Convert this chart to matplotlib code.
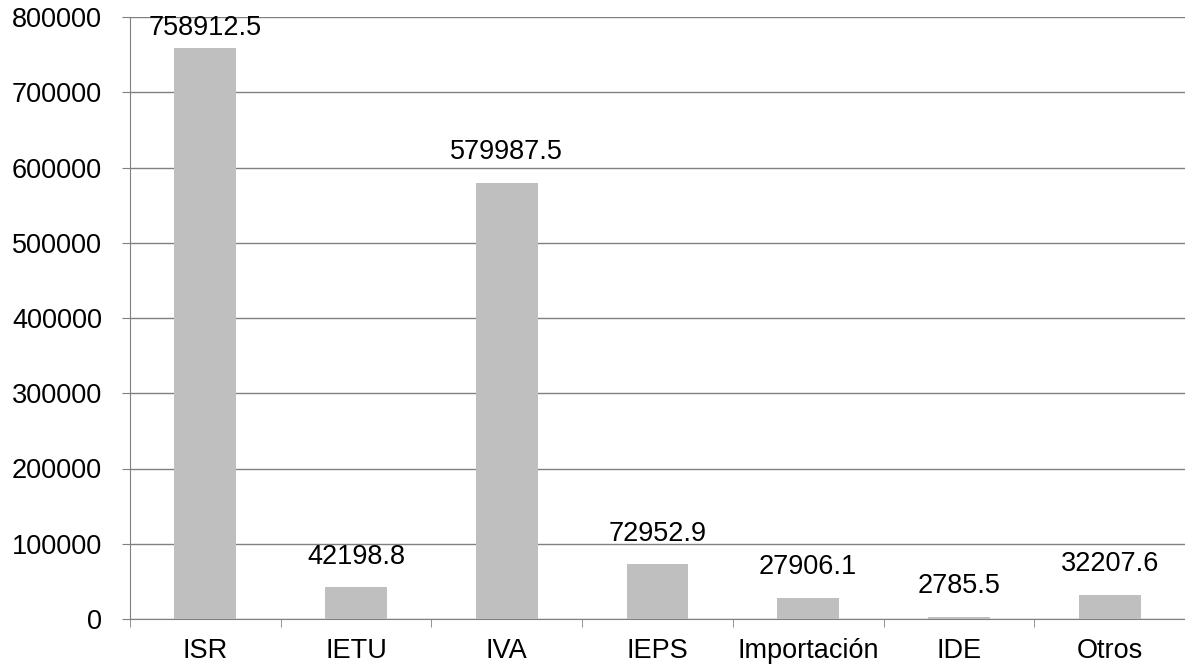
import matplotlib.pyplot as plt

categories = ["ISR", "IETU", "IVA", "IEPS", "Importación", "IDE", "Otros"]
values = [758912.5, 42198.8, 579987.5, 72952.9, 27906.1, 2785.5, 32207.6]
labels = ["758912.5", "42198.8", "579987.5", "72952.9", "27906.1", "2785.5", "32207.6"]

plt.rcParams['font.family'] = ['Liberation Sans', 'DejaVu Sans']
fs = 19.5

fig = plt.figure(figsize=(11.85, 6.69), dpi=100)
ax = fig.add_axes([130 / 1185, 50 / 669, 1055 / 1185, 602 / 669])

x = list(range(len(categories)))
ax.bar(x, values, width=0.41, color="#bfbfbf", zorder=3)

ax.set_xlim(-0.5, len(categories) - 0.5)
ax.set_ylim(0, 800000)
ax.set_yticks(range(0, 800001, 100000))
ax.tick_params(axis='y', labelsize=fs, length=6, color="#808080", pad=14)
ax.yaxis.grid(True, color="#808080", linewidth=1)
ax.set_axisbelow(True)

ax.set_xticks(x)
ax.set_xticklabels(categories)
ax.set_xticks([i + 0.5 for i in range(-1, len(categories))], minor=True)
ax.tick_params(axis='x', which='major', length=0, labelsize=fs, pad=14)
ax.tick_params(axis='x', which='minor', length=6, color="#808080")

for s in ['top', 'right']:
    ax.spines[s].set_visible(False)
ax.spines['left'].set_color("#808080")
ax.spines['bottom'].set_color("#808080")

# value labels above bars, the tallest one kept inside the plot area
for xi, v, lab in zip(x, values, labels):
    if v > 700000:
        ax.annotate(lab, (xi, 800000), xytext=(0, -8), textcoords='offset points',
                    ha='center', va='center', fontsize=fs, zorder=4)
    else:
        ax.annotate(lab, (xi, v), xytext=(0, 22), textcoords='offset points',
                    ha='center', va='center', fontsize=fs, zorder=4)

plt.savefig("out.png", dpi=100)
